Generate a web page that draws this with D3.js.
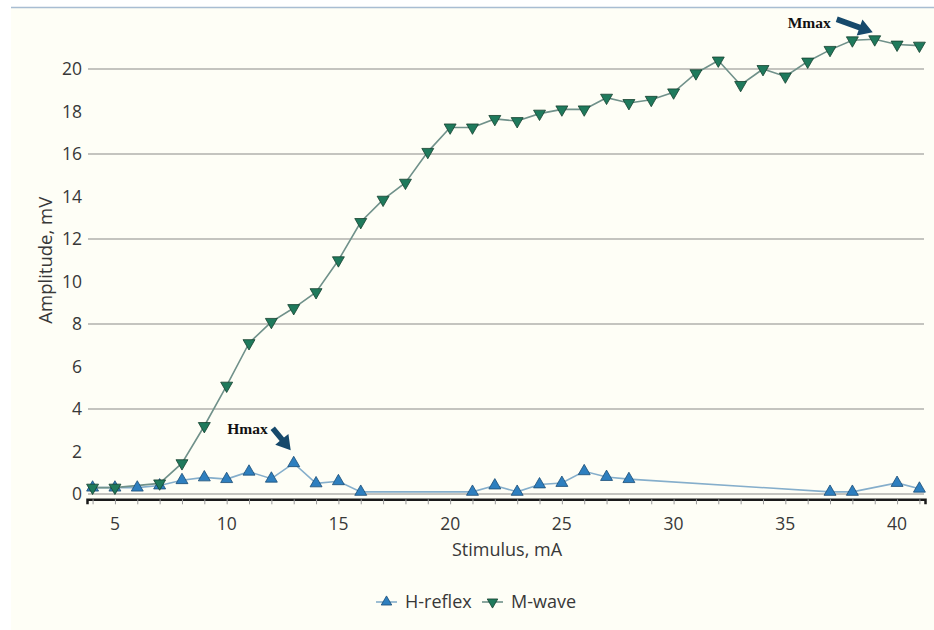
<!DOCTYPE html>
<html>
<head>
<meta charset="utf-8">
<script src="https://cdn.jsdelivr.net/npm/d3@7"></script>
<style>
	body { margin: 0; background: #ffffff; }
	svg { display: block; }
	text { font-family: "Open Sans", "Noto Sans", sans-serif; fill: #383838; }
</style>
</head>
<body>
<div id="chart"></div>
<script>
// stimulus (mA) for each recorded point
const hStimulus = [4, 5, 6, 7, 8, 9, 10, 11, 12, 13, 14, 15, 16, 21, 22, 23, 24, 25, 26, 27, 28, 37, 38, 40, 41];
const hAmplitude = [0.3, 0.3, 0.3, 0.4, 0.65, 0.78, 0.7, 1.05, 0.72, 1.45, 0.5, 0.6, 0.1, 0.1, 0.4, 0.1, 0.45, 0.52, 1.07, 0.8, 0.7, 0.1, 0.1, 0.52, 0.25];

const mStimulus = [4, 5, 7, 8, 9, 10, 11, 12, 13, 14, 15, 16, 17, 18, 19, 20, 21, 22, 23, 24, 25, 26, 27, 28, 29, 30, 31, 32, 33, 34, 35, 36, 37, 38, 39, 40, 41];
const mAmplitude = [0.3, 0.3, 0.5, 1.45, 3.2, 5.1, 7.1, 8.1, 8.75, 9.5, 11.0, 12.8, 13.85, 14.65, 16.1, 17.25, 17.25, 17.65, 17.55, 17.9, 18.1, 18.1, 18.65, 18.4, 18.55, 18.9, 19.8, 20.4, 19.25, 20.0, 19.65, 20.35, 20.9, 21.35, 21.4, 21.15, 21.1];

const xTicks = [5, 10, 15, 20, 25, 30, 35, 40];
const yLabels = [0, 2, 4, 6, 8, 10, 12, 14, 16, 18, 20];
const yGrid = [0, 4, 8, 12, 16, 20];

const seriesNames = ['H-reflex', 'M-wave'];

const width = 934, height = 630;
const hColor = { line: '#85aecb', fill: '#2e7fbf', stroke: '#1b4d75' };
const mColor = { line: '#70918a', fill: '#1f7a5c', stroke: '#15402f' };
const arrowColor = '#16496b';

const $svg = d3.select('#chart').append('svg')
	.attr('width', width)
	.attr('height', height);

// background panel
$svg.append('rect')
	.attr('x', 11).attr('y', 8)
	.attr('width', width - 11).attr('height', height - 8)
	.attr('fill', '#fefef6');
$svg.append('line')
	.attr('x1', 11).attr('x2', width)
	.attr('y1', 7.5).attr('y2', 7.5)
	.attr('stroke', '#a8bdd2')
	.attr('stroke-width', 1.5);

const x = d3.scaleLinear().domain([3.75, 41.25]).range([87, 925]);
const y = d3.scaleLinear().domain([-0.25, 22]).range([499.3, 26.5]);

// gridlines
$svg.append('g')
	.selectAll('line')
	.data(yGrid)
	.enter()
	.append('line')
	.attr('x1', 88).attr('x2', 924)
	.attr('y1', d => y(d)).attr('y2', d => y(d))
	.attr('stroke', '#b0b0ac')
	.attr('stroke-width', 1.5);

// y labels
$svg.append('g')
	.selectAll('text')
	.data(yLabels)
	.enter()
	.append('text')
	.attr('x', 82)
	.attr('y', d => y(d))
	.attr('dy', '0.35em')
	.attr('text-anchor', 'end')
	.style('font-size', '17.5px')
	.text(d => d);

// x axis
const xAxis = d3.axisBottom(x)
	.tickValues(d3.range(4, 42))
	.tickSize(5)
	.tickFormat('');
const $xAxis = $svg.append('g')
	.attr('transform', `translate(0,${y(-0.25)})`)
	.call(xAxis);
$xAxis.select('.domain').attr('stroke', '#1a1a1a').attr('stroke-width', 2.5);
$xAxis.selectAll('.tick line').attr('stroke', '#9a9a9a');

$svg.append('g')
	.selectAll('text')
	.data(xTicks)
	.enter()
	.append('text')
	.attr('x', d => x(d))
	.attr('y', 524)
	.attr('dy', '0.35em')
	.attr('text-anchor', 'middle')
	.style('font-size', '17.5px')
	.text(d => d);

// axis titles
$svg.append('text')
	.attr('transform', `translate(46,${y(11)}) rotate(-90)`)
	.attr('text-anchor', 'middle')
	.attr('dy', '0.35em')
	.style('font-size', '18.5px')
	.text('Amplitude, mV');
$svg.append('text')
	.attr('x', 507)
	.attr('y', 550)
	.attr('dy', '0.35em')
	.attr('text-anchor', 'middle')
	.style('font-size', '18px')
	.text('Stimulus, mA');

// series
const hData = hStimulus.map((s, i) => ({ s: s, a: hAmplitude[i] }));
const mData = mStimulus.map((s, i) => ({ s: s, a: mAmplitude[i] }));
const line = d3.line().x(d => x(d.s)).y(d => y(d.a));

$svg.append('path')
	.datum(hData)
	.attr('d', line)
	.attr('fill', 'none')
	.attr('stroke', hColor.line)
	.attr('stroke-width', 1.6);
$svg.append('path')
	.datum(mData)
	.attr('d', line)
	.attr('fill', 'none')
	.attr('stroke', mColor.line)
	.attr('stroke-width', 1.6);

const tri = d3.symbol().type(d3.symbolTriangle).size(62);

$svg.append('g')
	.selectAll('path')
	.data(hData)
	.enter()
	.append('path')
	.attr('d', tri)
	.attr('transform', d => `translate(${x(d.s)},${y(d.a)})`)
	.attr('fill', hColor.fill)
	.attr('stroke', hColor.stroke)
	.attr('stroke-width', 0.8);

$svg.append('g')
	.selectAll('path')
	.data(mData)
	.enter()
	.append('path')
	.attr('d', tri)
	.attr('transform', d => `translate(${x(d.s)},${y(d.a)}) rotate(180)`)
	.attr('fill', mColor.fill)
	.attr('stroke', mColor.stroke)
	.attr('stroke-width', 0.8);

// annotations
function arrow(x1, y1, x2, y2) {
	const ang = Math.atan2(y2 - y1, x2 - x1);
	const len = Math.hypot(x2 - x1, y2 - y1);
	const head = 14, hw = 8.5, sw = 2.8;
	const pts = [[0, -sw], [len - head, -sw], [len - head, -hw], [len, 0], [len - head, hw], [len - head, sw], [0, sw]];
	$svg.append('polygon')
		.attr('points', pts.map(p => p.join(',')).join(' '))
		.attr('transform', `translate(${x1},${y1}) rotate(${ang * 180 / Math.PI})`)
		.attr('fill', arrowColor);
}

const hMaxIdx = hAmplitude.indexOf(d3.max(hAmplitude));
const mMaxIdx = mAmplitude.indexOf(d3.max(mAmplitude));
const hx = x(hStimulus[hMaxIdx]), hy = y(hAmplitude[hMaxIdx]);
const mx = x(mStimulus[mMaxIdx]), my = y(mAmplitude[mMaxIdx]);

$svg.append('text')
	.attr('x', hx - 26)
	.attr('y', hy - 35)
	.attr('dy', '0.35em')
	.attr('text-anchor', 'end')
	.style('font-family', '"Liberation Serif", "DejaVu Serif", serif')
	.style('font-weight', 'bold')
	.style('font-size', '15.5px')
	.style('fill', '#111111')
	.text('Hmax');
arrow(hx - 21, hy - 35, hx - 3, hy - 13);

$svg.append('text')
	.attr('x', mx - 44)
	.attr('y', my - 17)
	.attr('dy', '0.35em')
	.attr('text-anchor', 'end')
	.style('font-family', '"Liberation Serif", "DejaVu Serif", serif')
	.style('font-weight', 'bold')
	.style('font-size', '15.5px')
	.style('fill', '#111111')
	.text('Mmax');
arrow(mx - 38, my - 20, mx - 2, my - 7);

// legend
const legendItems = [
	{ name: seriesNames[0], c: hColor, x0: 376, rot: 0 },
	{ name: seriesNames[1], c: mColor, x0: 482, rot: 180 }
];
const $legend = $svg.append('g').attr('transform', 'translate(0,602)');
const $item = $legend.selectAll('g')
	.data(legendItems)
	.enter()
	.append('g')
	.attr('transform', d => `translate(${d.x0},0)`);
$item.append('line')
	.attr('x1', 0).attr('x2', 21)
	.attr('stroke', d => d.c.line)
	.attr('stroke-width', 1.6);
$item.append('path')
	.attr('d', d3.symbol().type(d3.symbolTriangle).size(48))
	.attr('transform', d => `translate(10.5,0) rotate(${d.rot})`)
	.attr('fill', d => d.c.fill)
	.attr('stroke', d => d.c.stroke)
	.attr('stroke-width', 0.8);
$item.append('text')
	.attr('x', 29)
	.attr('dy', '0.35em')
	.style('font-size', '18px')
	.text(d => d.name);
</script>
</body>
</html>
